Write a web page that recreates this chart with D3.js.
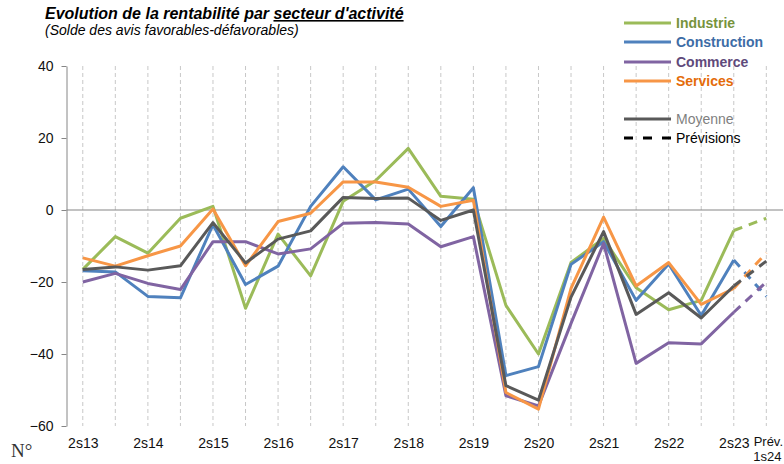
<!DOCTYPE html>
<html>
<head>
<meta charset="utf-8">
<script src="https://cdn.jsdelivr.net/npm/d3@7"></script>
<style>
  body { margin: 0; background: #fff; }
  svg { font-family: "Liberation Sans", Arial, sans-serif; }
</style>
</head>
<body>
<div id="chart"></div>
<script>
/* data */
var categories = ["2s13","1s14","2s14","1s15","2s15","1s16","2s16","1s17","2s17","1s18","2s18",
	"1s19","2s19","1s20","2s20","1s21","2s21","1s22","2s22","1s23","2s23","1s24"];
var industrie    = [-16.5, -7.4, -12, -2.3, 1, -27.3, -6.7, -18.3, 2.4, 8.2, 17.1, 3.8, 3, -26.5, -40, -14.6, -7.9, -21.6, -27.7, -25.1, -5.7, -2.3];
var construction = [-16.9, -17.2, -24, -24.4, -4.1, -20.7, -15.6, 1, 12, 2.8, 5.8, -4.6, 6.2, -46, -43.5, -15.1, -8.8, -25.1, -15, -29.3, -13.9, -24];
var commerce     = [-20, -17.6, -20.4, -22.1, -8.8, -8.8, -12.2, -10.8, -3.7, -3.5, -3.9, -10.2, -7.4, -51.6, -54.4, -31.5, -9.3, -42.6, -36.9, -37.2, -28.4, -20];
var services     = [-13.3, -15.6, -12.7, -10, 0.3, -15.5, -3.2, -0.9, 7.8, 7.8, 6.3, 1, 2.7, -50.7, -55.3, -21.8, -2, -21.1, -14.6, -26.2, -21.8, -11.9];
var moyenne      = [-16.5, -15.8, -16.7, -15.5, -3.5, -14.7, -8.1, -5.8, 3.5, 3.2, 3.3, -2.9, 0, -48.8, -52.8, -24.2, -6, -29, -23, -30, -21.1, -14.2];
var yTicks = [-60, -40, -20, 0, 20, 40];
var forecastFrom = "2s23";

var series = [
	{name: "Industrie",    values: industrie,    color: "#9BBB59", text: "#77933C", bold: true},
	{name: "Construction", values: construction, color: "#4F81BD", text: "#3D6CA6", bold: true},
	{name: "Commerce",     values: commerce,     color: "#8064A2", text: "#604A7B", bold: true},
	{name: "Services",     values: services,     color: "#F79646", text: "#E46C0A", bold: true},
	{name: "Moyenne",      values: moyenne,      color: "#595959", text: "#7F7F7F", bold: false}
];

var width = 784, height = 464;

var svg = d3.select("#chart").append("svg")
	.attr("width", width)
	.attr("height", height);

var x = d3.scalePoint()
	.domain(categories)
	.range([66.5, 782.6])
	.padding(0.5);

var y = d3.scaleLinear()
	.domain([-60, 40])
	.range([426, 66]);

/*grid*/
svg.append("g")
	.selectAll("line")
	.data(categories)
	.enter().append("line")
	.attr("x1", function(d) { return x(d); })
	.attr("x2", function(d) { return x(d); })
	.attr("y1", y(40))
	.attr("y2", y(-60))
	.style("stroke", "#C8C8C8")
	.style("stroke-width", 1)
	.style("stroke-dasharray", "4,3");

/*y axis*/
var yAxis = svg.append("g")
	.attr("transform", "translate(66.5,0)")
	.call(d3.axisLeft(y).tickValues(yTicks).tickSize(5).tickSizeOuter(0).tickPadding(8));
yAxis.select(".domain").style("stroke", "#868686");
yAxis.selectAll(".tick line").style("stroke", "#868686");
yAxis.selectAll("text")
	.style("font-size", "14px")
	.style("fill", "#111")
	.style("font-family", "Liberation Sans, Arial, sans-serif");

/*zero line*/
svg.append("line")
	.attr("x1", 66.5).attr("x2", 783)
	.attr("y1", y(0)).attr("y2", y(0))
	.style("stroke", "#868686")
	.style("stroke-width", 1.2);

/*x labels*/
var xAxis = svg.append("g")
	.attr("transform", "translate(0," + y(-60) + ")")
	.call(d3.axisBottom(x).tickSize(0).tickPadding(12)
		.tickFormat(function(d) { return d.slice(0, 2) == "2s" ? d : ""; }));
xAxis.select(".domain").remove();
xAxis.selectAll("text")
	.style("font-size", "14px")
	.style("fill", "#111")
	.style("font-family", "Liberation Sans, Arial, sans-serif");
/*last label on two lines, as two texts*/
var lastTick = xAxis.selectAll(".tick").filter(function(d) { return d == categories[categories.length - 1]; });
lastTick.select("text")
	.attr("x", 1.5)
	.attr("y", 11)
	.style("font-size", "13px")
	.text("Prév.");
lastTick.append("text")
	.attr("x", 0.5)
	.attr("y", 35)
	.attr("text-anchor", "middle")
	.style("font-size", "13px")
	.style("fill", "#111")
	.style("font-family", "Liberation Sans, Arial, sans-serif")
	.text("1s24");

/*lines*/
var cut = categories.indexOf(forecastFrom);
var line = d3.line()
	.x(function(d) { return x(d.c); })
	.y(function(d) { return y(d.v); });

series.forEach(function(s) {
	var pts = s.values.map(function(v, i) { return {c: categories[i], v: v}; });
	svg.append("path")
		.datum(pts.slice(0, cut + 1))
		.attr("d", line)
		.style("fill", "none")
		.style("stroke", s.color)
		.style("stroke-width", 3)
		.style("stroke-linejoin", "round");
	svg.append("path")
		.datum(pts.slice(cut))
		.attr("d", line)
		.style("fill", "none")
		.style("stroke", s.color)
		.style("stroke-width", 3)
		.style("stroke-dasharray", "9,7");
});

/*title*/
var title = svg.append("text")
	.attr("x", 45)
	.attr("y", 19)
	.style("font-size", "16px")
	.style("font-weight", "bold")
	.style("font-style", "italic")
	.text("Evolution de la rentabilité par ");
title.append("tspan")
	.style("text-decoration", "underline")
	.text("secteur d'activité");

svg.append("text")
	.attr("x", 45)
	.attr("y", 35)
	.style("font-size", "14px")
	.style("font-style", "italic")
	.text("(Solde des avis favorables-défavorables)");

/*legend*/
var legendY = [23, 42, 62, 81, 119];
var legend = svg.append("g");
series.forEach(function(s, i) {
	legend.append("line")
		.attr("x1", 624).attr("x2", 671)
		.attr("y1", legendY[i]).attr("y2", legendY[i])
		.style("stroke", s.color)
		.style("stroke-width", 3);
	legend.append("text")
		.attr("x", 676)
		.attr("y", legendY[i])
		.attr("dy", "0.35em")
		.style("font-size", "14px")
		.style("font-weight", s.bold ? "bold" : "normal")
		.style("fill", s.text)
		.text(s.name);
});
legend.append("line")
	.attr("x1", 624).attr("x2", 671)
	.attr("y1", 138).attr("y2", 138)
	.style("stroke", "#000")
	.style("stroke-width", 3)
	.style("stroke-dasharray", "9,10");
legend.append("text")
	.attr("x", 676)
	.attr("y", 138)
	.attr("dy", "0.35em")
	.style("font-size", "14px")
	.style("fill", "#000")
	.text("Prévisions");

svg.append("text")
	.attr("x", 11)
	.attr("y", 457)
	.style("font-family", "Liberation Serif, serif")
	.style("font-size", "19px")
	.style("fill", "#333")
	.text("N°");
</script>
</body>
</html>
